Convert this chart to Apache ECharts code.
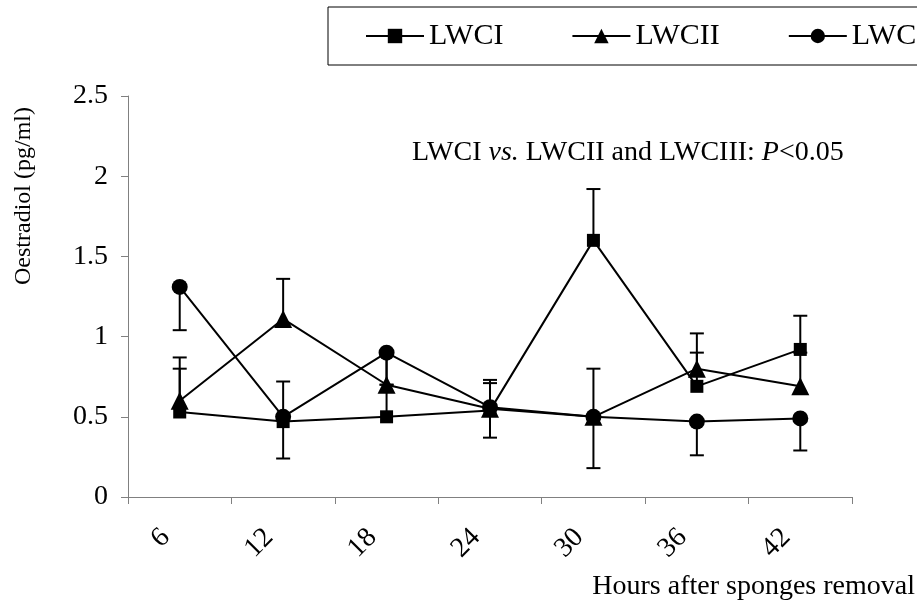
<!DOCTYPE html>
<html>
<head>
<meta charset="utf-8">
<script src="https://cdn.jsdelivr.net/npm/echarts@6/dist/echarts.min.js"></script>
<style>
  html, body { margin: 0; padding: 0; background: #fff; }
  #chart { width: 917px; height: 608px; }
</style>
</head>
<body>
<div id="chart"></div>
<script>
var dom = document.getElementById("chart");
var myChart = echarts.init(dom);
var serif = "'Liberation Serif', 'Times New Roman', serif";

var hours = ['6', '12', '18', '24', '30', '36', '42'];
var seriesNames = ['LWCI', 'LWCII', 'LWCIII'];
// means
var lwc1 = [0.53, 0.47, 0.50, 0.54, 1.60, 0.69, 0.92];
var lwc2 = [0.60, 1.11, 0.70, 0.55, 0.50, 0.80, 0.69];
var lwc3 = [1.31, 0.50, 0.90, 0.56, 0.50, 0.47, 0.49];
// one-sided error bars (sign = direction)
var lwc1Err = [0.27, -0.23, 0.20, -0.17, 0.32, 0.21, 0.21];
var lwc2Err = [0.27, 0.25, 0.20, 0.16, -0.32, 0.22, 0.21];
var lwc3Err = [-0.27, 0.22, -0.20, 0.17, 0.30, -0.21, -0.20];

function errorBars(means, errs) {
    return {
        type: 'custom',
        silent: true,
        z: 1,
        data: means.map(function (m, i) { return [i, m, m + errs[i]]; }),
        encode: { x: 0, y: [1, 2] },
        renderItem: function (params, api) {
            var p0 = api.coord([api.value(0), api.value(1)]);
            var p1 = api.coord([api.value(0), api.value(2)]);
            var h = 7;
            return {
                type: 'group',
                children: [
                    { type: 'line', shape: { x1: p0[0], y1: p0[1], x2: p1[0], y2: p1[1] }, style: { stroke: '#000', lineWidth: 2 } },
                    { type: 'line', shape: { x1: p1[0] - h, y1: p1[1], x2: p1[0] + h, y2: p1[1] }, style: { stroke: '#000', lineWidth: 2 } }
                ]
            };
        }
    };
}

function lineSeries(name, data, symbol, size) {
    return {
        name: name,
        type: 'line',
        data: data,
        symbol: symbol,
        symbolSize: size,
        z: 3,
        lineStyle: { color: '#000', width: 2 },
        itemStyle: { color: '#000' }
    };
}

var option = {
    backgroundColor: '#fff',
    animation: false,
    title: [
        {
            text: '{n|LWCI }{i|vs.}{n| LWCII and LWCIII: }{i|P}{n|<0.05}',
            left: 412,
            top: 139,
            padding: 0,
            textStyle: {
                fontWeight: 'normal',
                rich: {
                    n: { fontFamily: serif, fontSize: 28, fontWeight: 'normal', color: '#000' },
                    i: { fontFamily: serif, fontSize: 28, fontWeight: 'normal', color: '#000', fontStyle: 'italic' }
                }
            }
        },
        {
            text: 'Hours after sponges removal',
            right: 2,
            top: 573,
            padding: 0,
            textStyle: { fontFamily: serif, fontSize: 28, fontWeight: 'normal', color: '#000' }
        }
    ],
    graphic: [
        {
            type: 'text',
            x: 24,
            y: 196,
            rotation: Math.PI / 2,
            style: {
                text: 'Oestradiol (pg/ml)',
                font: "24px 'Liberation Serif', 'Times New Roman', serif",
                fill: '#000',
                textAlign: 'center',
                textVerticalAlign: 'middle'
            }
        }
    ],
    legend: {
        data: seriesNames,
        left: 328,
        top: 7,
        width: 800,
        padding: [14, 10, 14, 37],
        itemGap: 68,
        itemWidth: 58,
        itemHeight: 18,
        borderColor: '#000',
        borderWidth: 1,
        borderRadius: 0,
        textStyle: { fontFamily: serif, fontSize: 30, color: '#000' }
    },
    grid: { left: 128, right: 65, top: 96, bottom: 111 },
    xAxis: {
        type: 'category',
        data: hours,
        boundaryGap: true,
        axisLine: { lineStyle: { color: '#808080', width: 1 } },
        axisTick: { show: true, length: 7, lineStyle: { color: '#808080' } },
        axisLabel: {
            rotate: 45,
            margin: 22,
            padding: [0, 20, 0, 0],
            fontFamily: serif,
            fontSize: 28,
            color: '#000'
        },
        splitLine: { show: false }
    },
    yAxis: {
        type: 'value',
        min: 0,
        max: 2.5,
        interval: 0.5,
        axisLine: { show: true, lineStyle: { color: '#808080', width: 1 } },
        axisTick: { show: true, length: 7, lineStyle: { color: '#808080' } },
        axisLabel: { margin: 20, fontFamily: serif, fontSize: 28, color: '#000' },
        splitLine: { show: false }
    },
    series: [
        errorBars(lwc1, lwc1Err),
        errorBars(lwc2, lwc2Err),
        errorBars(lwc3, lwc3Err),
        lineSeries('LWCI', lwc1, 'rect', 13),
        lineSeries('LWCII', lwc2, 'triangle', 18),
        lineSeries('LWCIII', lwc3, 'circle', 16)
    ]
};
myChart.setOption(option);
</script>
</body>
</html>
